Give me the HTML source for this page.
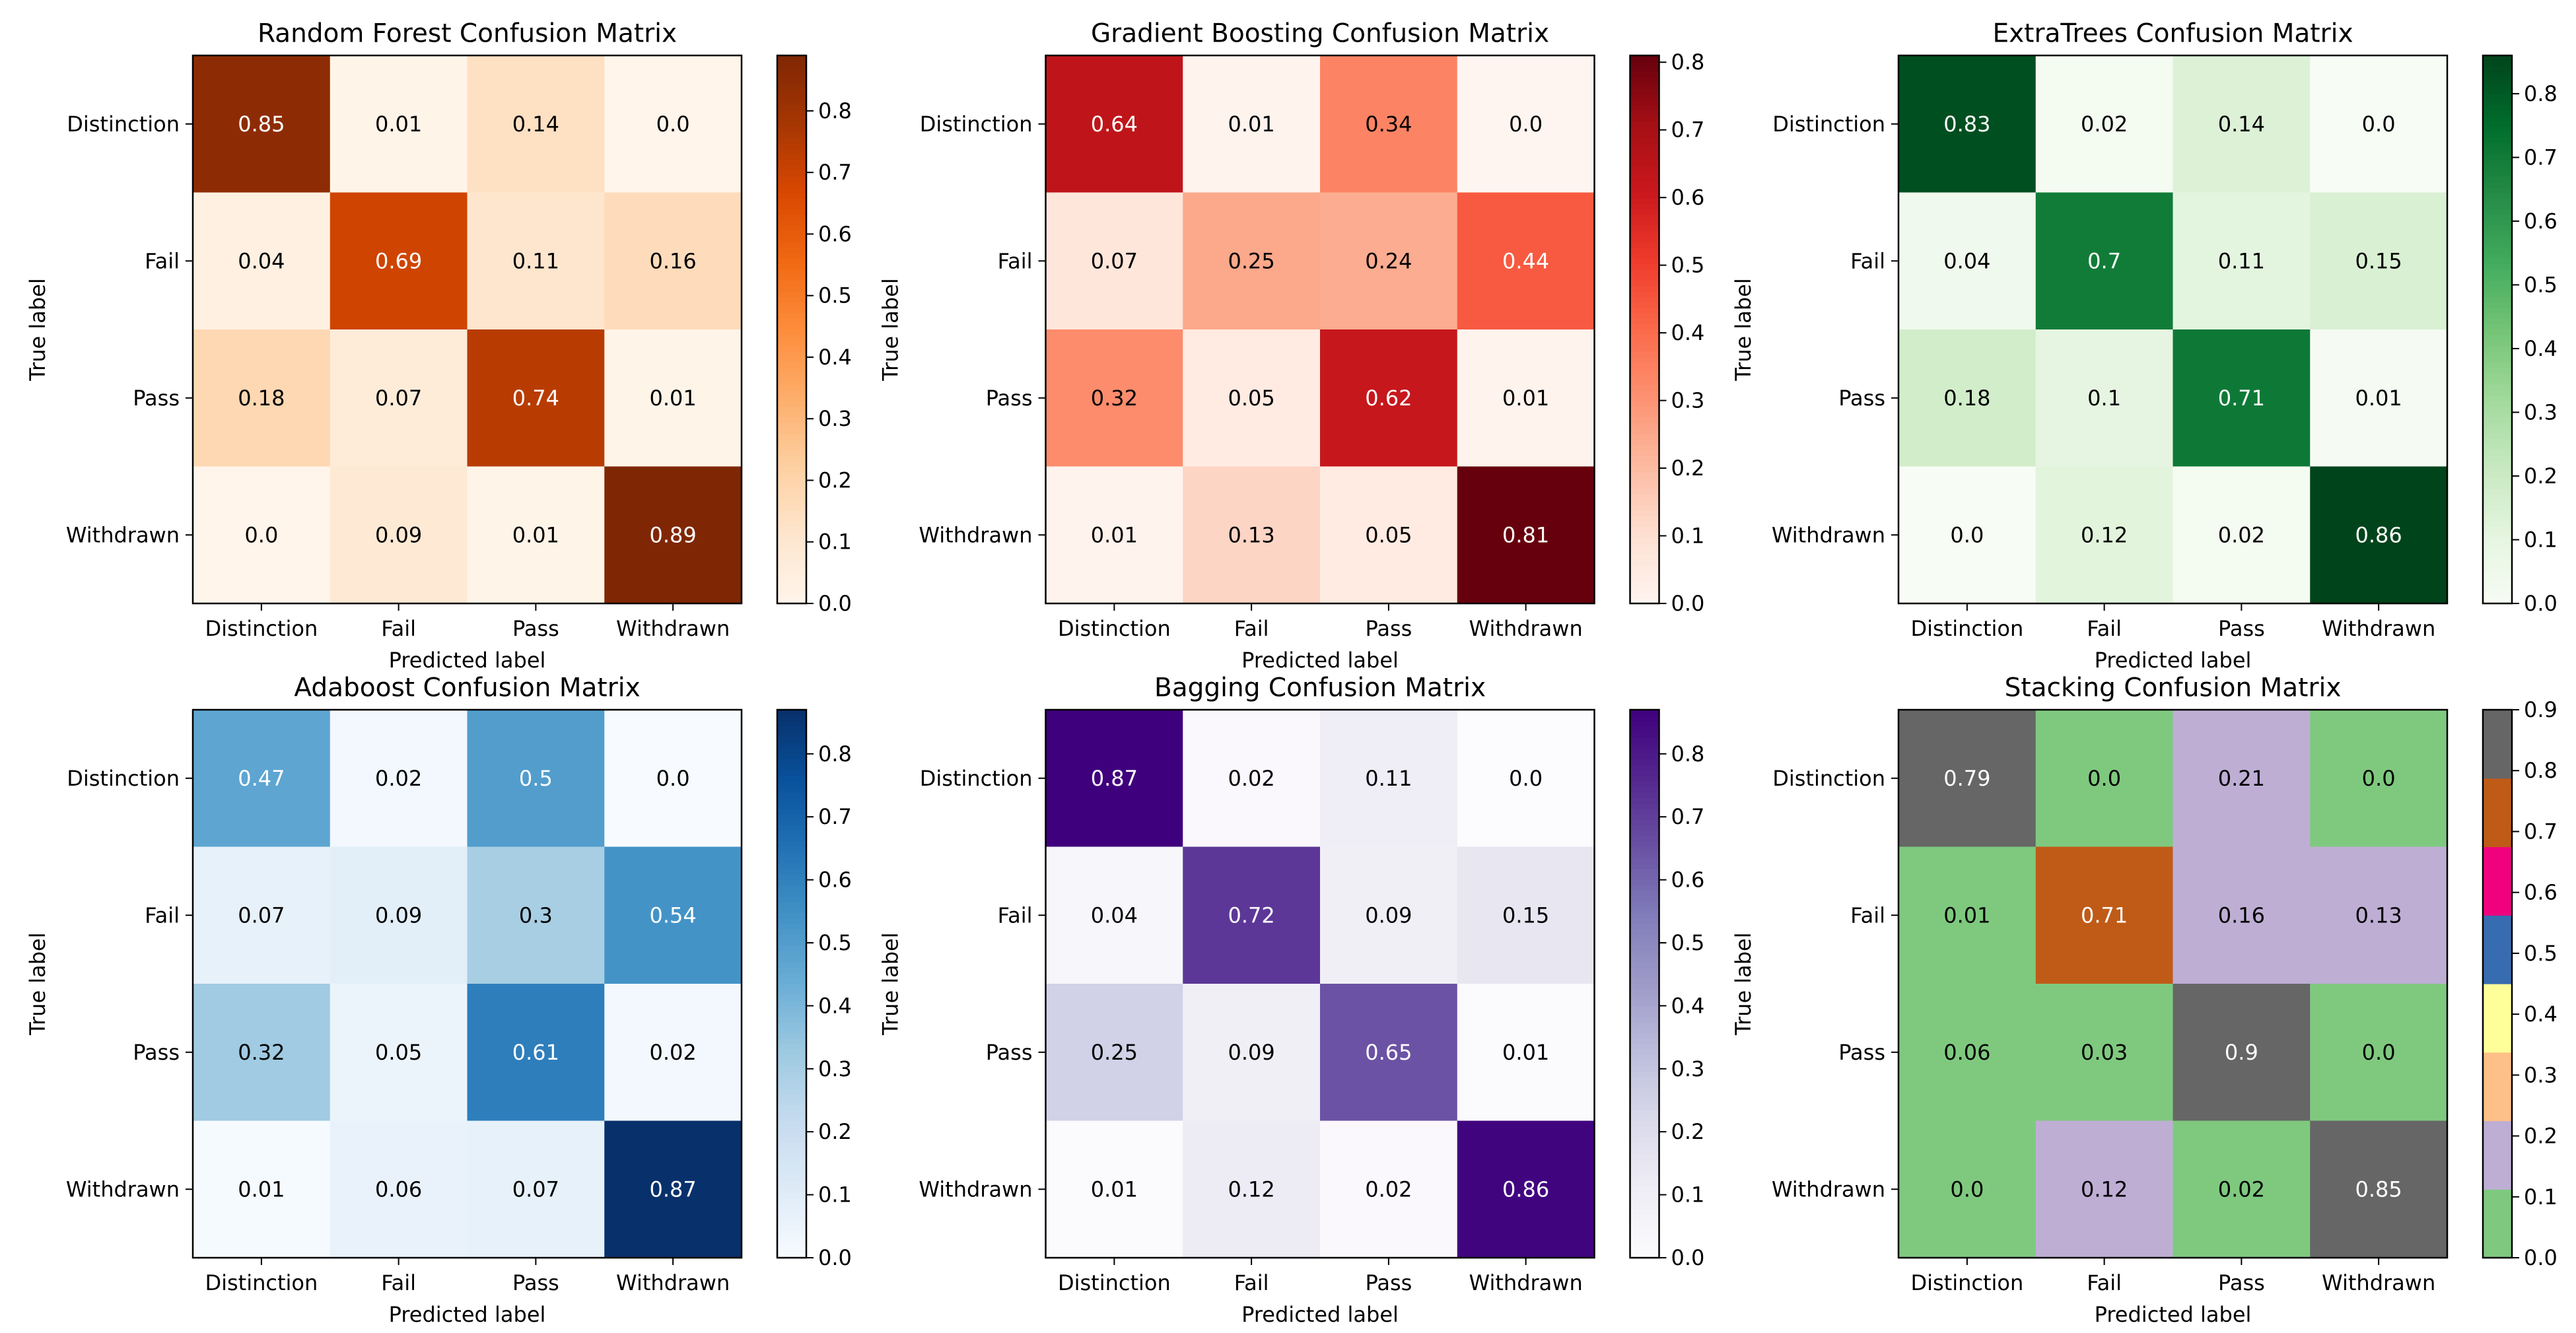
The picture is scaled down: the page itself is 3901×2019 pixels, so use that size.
<!DOCTYPE html>
<html><head><meta charset="utf-8"><style>
html,body{margin:0;padding:0;background:#fff}
svg{display:block;font-family:"DejaVu Sans","Liberation Sans",sans-serif}
</style></head><body>
<svg id="fig" width="3901" height="2019" viewBox="0 0 3901 2019" xmlns="http://www.w3.org/2000/svg"></svg>
<script>
const labels = ["Distinction","Fail","Pass","Withdrawn"];
const titles = ["Random Forest Confusion Matrix","Gradient Boosting Confusion Matrix","ExtraTrees Confusion Matrix","Adaboost Confusion Matrix","Bagging Confusion Matrix","Stacking Confusion Matrix"];
const rfValues = [[0.85,0.01,0.14,0.0],[0.04,0.69,0.11,0.16],[0.18,0.07,0.74,0.01],[0.0,0.09,0.01,0.89]];
const gbValues = [[0.64,0.01,0.34,0.0],[0.07,0.25,0.24,0.44],[0.32,0.05,0.62,0.01],[0.01,0.13,0.05,0.81]];
const etValues = [[0.83,0.02,0.14,0.0],[0.04,0.7,0.11,0.15],[0.18,0.1,0.71,0.01],[0.0,0.12,0.02,0.86]];
const adaValues = [[0.47,0.02,0.5,0.0],[0.07,0.09,0.3,0.54],[0.32,0.05,0.61,0.02],[0.01,0.06,0.07,0.87]];
const bagValues = [[0.87,0.02,0.11,0.0],[0.04,0.72,0.09,0.15],[0.25,0.09,0.65,0.01],[0.01,0.12,0.02,0.86]];
const stackValues = [[0.79,0.0,0.21,0.0],[0.01,0.71,0.16,0.13],[0.06,0.03,0.9,0.0],[0.0,0.12,0.02,0.85]];
const cbTicks = [0,0.1,0.2,0.3,0.4,0.5,0.6,0.7,0.8,0.9];

const CM = {
 Oranges:["#fff5eb","#fee6ce","#fdd0a2","#fdae6b","#fd8d3c","#f16913","#d94801","#a63603","#7f2704"],
 Reds:["#fff5f0","#fee0d2","#fcbba1","#fc9272","#fb6a4a","#ef3b2c","#cb181d","#a50f15","#67000d"],
 Greens:["#f7fcf5","#e5f5e0","#c7e9c0","#a1d99b","#74c476","#41ab5d","#238b45","#006d2c","#00441b"],
 Blues:["#f7fbff","#deebf7","#c6dbef","#9ecae1","#6baed6","#4292c6","#2171b5","#08519c","#08306b"],
 Purples:["#fcfbfd","#efedf5","#dadaeb","#bcbddc","#9e9ac8","#807dba","#6a51a3","#54278f","#3f007d"]
};
const accent = ["#7fc97f","#beaed4","#fdc086","#ffff99","#386cb0","#f0027f","#bf5b17","#666666"];
function hex(c){return [1,3,5].map(i=>parseInt(c.substr(i,2),16));}
function interp(stops,t){
  t=Math.max(0,Math.min(1,t));const p=t*(stops.length-1);const i=Math.min(Math.floor(p),stops.length-2);const f=p-i;
  const a=hex(stops[i]),b=hex(stops[i+1]);
  return "rgb("+a.map((v,k)=>Math.round(v+(b[k]-v)*f)).join(",")+")";
}
function fmt(v){let s=String(v);if(s.indexOf(".")<0)s+=".0";return s;}
const panels = [
 {data:rfValues,cmap:"Oranges",col:0,row:0},
 {data:gbValues,cmap:"Reds",col:1,row:0},
 {data:etValues,cmap:"Greens",col:2,row:0},
 {data:adaValues,cmap:"Blues",col:0,row:1},
 {data:bagValues,cmap:"Purples",col:1,row:1},
 {data:stackValues,cmap:"Accent",col:2,row:1,vmax:0.9}
];
const NS="http://www.w3.org/2000/svg";
const fig=document.getElementById("fig");
function mk(tag,attrs,parent,text){const e=document.createElementNS(NS,tag);for(const k in attrs)e.setAttribute(k,attrs[k]);if(text!==undefined)e.textContent=text;parent.appendChild(e);return e;}
const W=831,H=830,FS=32;
panels.forEach((p,pi)=>{
  const L=292+p.col*1291.5, T=84+p.row*991;
  const g=mk("g",{},fig);
  
  
  const vmax=p.vmax!==undefined?p.vmax:Math.max(...p.data.flat());
  const color=v=>{
    if(p.cmap==="Accent"){let i=Math.floor(v/vmax*8);if(i>7)i=7;if(i<0)i=0;return accent[i];}
    return interp(CM[p.cmap],v/vmax);
  };
  const cw=W/4,ch=H/4;
  const xs=j=>L+j*cw, ys=i=>T+i*ch;
  p.data.forEach((row,i)=>row.forEach((v,j)=>{
    const r=mk("rect",{x:xs(j),y:ys(i),width:cw+0.5,height:ch+0.5,fill:color(v)},g);
    
    
    const t=mk("text",{x:xs(j)+cw/2,y:ys(i)+ch/2,"text-anchor":"middle","dominant-baseline":"central","font-size":FS,fill:(v>vmax/2?"#fff":"#000")},g,fmt(v));
    
    
  }));
  mk("rect",{x:L,y:T,width:W,height:H,fill:"none",stroke:"#000","stroke-width":2.5},g);
  labels.forEach((lb,k)=>{
    const cx=xs(k)+cw/2, cy=ys(k)+ch/2;
    mk("line",{x1:cx,y1:T+H,x2:cx,y2:T+H+11,stroke:"#000","stroke-width":2},g);
    const xt=mk("text",{x:cx,y:T+H+38,"text-anchor":"middle","dominant-baseline":"central","font-size":FS},g,lb);
    
    
    mk("line",{x1:L-11,y1:cy,x2:L,y2:cy,stroke:"#000","stroke-width":2},g);
    const yt=mk("text",{x:L-20,y:cy,"text-anchor":"end","dominant-baseline":"central","font-size":FS},g,lb);
    
    
  });
  const ti=mk("text",{x:L+W/2,y:T-33,"text-anchor":"middle","dominant-baseline":"central","font-size":39},g,titles[pi]);
  
  
  const xl=mk("text",{x:L+W/2,y:T+H+86,"text-anchor":"middle","dominant-baseline":"central","font-size":FS},g,"Predicted label");
  
  
  const yx=L-235, yy=T+H/2;
  const yl=mk("text",{x:yx,y:yy,"text-anchor":"middle","dominant-baseline":"central","font-size":FS,transform:`rotate(-90 ${yx} ${yy})`},g,"True label");
  
  
  const CX=L+885, CWd=44;
  const cb=mk("g",{},g);
  
  
  const N=p.cmap==="Accent"?8:100;
  for(let k=0;k<N;k++){
    const v0=k/N*vmax, v1=(k+1)/N*vmax;
    const yTop=T+H-(v1/vmax)*H;
    mk("rect",{x:CX,y:yTop,width:CWd,height:H/N+0.6,fill:color((v0+v1)/2)},cb);
  }
  mk("rect",{x:CX,y:T,width:CWd,height:H,fill:"none",stroke:"#000","stroke-width":2.5},cb);
  cbTicks.filter(t=>t<=vmax+1e-9).forEach(t=>{
    const y=T+H-(t/vmax)*H;
    mk("line",{x1:CX+CWd,y1:y,x2:CX+CWd+11,y2:y,stroke:"#000","stroke-width":2},cb);
    const ct=mk("text",{x:CX+CWd+18,y:y,"dominant-baseline":"central","font-size":FS},cb,t.toFixed(1));
    
    
  });
});
</script>
</body></html>
